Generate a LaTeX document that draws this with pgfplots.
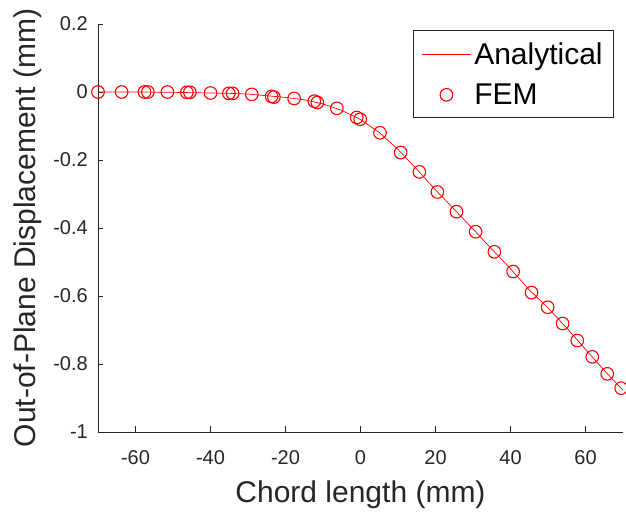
\documentclass[border=0pt]{standalone}
\usepackage{pgfplots}
\pgfplotsset{compat=1.18}
\usepackage{fontspec}
\setmainfont{Liberation Sans}
\definecolor{axgray}{rgb}{0.15,0.15,0.15}
\begin{document}
\begin{tikzpicture}
\begin{axis}[
  scale only axis,
  width=525pt, height=408pt,
  xmin=-70, xmax=70, ymin=-1, ymax=0.2,
  axis x line=bottom, axis y line=left,
  axis line style={-, axgray, line width=0.8pt},
  xtick={-60,-40,-20,0,20,40,60},
  ytick={-1,-0.8,-0.6,-0.4,-0.2,0,0.2},
  tick align=inside,
  major tick length=5.5pt,
  tick style={axgray, line width=0.8pt},
  /pgf/number format/assume math mode=true,
  yticklabel style={/pgf/number format/fixed, /pgf/number format/precision=1},
  ticklabel style={font=\fontsize{20}{24}\selectfont, text=axgray},
  xticklabel style={anchor=north, inner sep=0pt, yshift=-18pt},
  yticklabel style={anchor=east, inner sep=0pt, xshift=-10pt},
  xlabel={Chord length (mm)},
  ylabel={Out-of-Plane Displacement (mm)},
  label style={font=\fontsize{30}{36}\selectfont, text=axgray},
  xlabel style={at={(axis description cs:0.5,-0.174)}, anchor=base, inner sep=0pt},
  ylabel style={at={(axis description cs:-0.12,0.5)}, anchor=base, inner sep=0pt},
  legend style={at={(rel axis cs:0.983,0.985)}, anchor=north east,
    draw=axgray, line width=0.8pt, font=\fontsize{30}{36}\selectfont,
    inner xsep=8pt, inner ysep=8pt, row sep=10pt,
    nodes={inner xsep=3pt, inner ysep=4pt}},
  legend cell align=left,
  legend image code/.code={\draw[mark repeat=2,mark phase=2,#1] plot coordinates {(0pt,0pt) (24.5pt,0pt) (49pt,0pt)};},
]
\addplot[red, line width=0.7pt, mark=none] coordinates {
(-70,0) (-60,0) (-50,-0.001) (-40,-0.003) (-35,-0.004) (-30,-0.006)
(-25,-0.011) (-20,-0.016) (-15,-0.023) (-10,-0.035) (-5,-0.054) (0,-0.081)
(5,-0.119) (10,-0.169) (15,-0.227) (20,-0.288) (25,-0.345) (30,-0.403)
(35,-0.462) (40,-0.520) (45,-0.582) (50,-0.635) (55,-0.694) (60,-0.757)
(65,-0.819) (70,-0.877)
};
\addlegendentry{Analytical}
\addplot[red, only marks, mark=o, mark size=6.3pt, line width=1.1pt] coordinates {
(-70,0) (-63.7,0) (-57.6,0) (-56.7,0) (-51.5,0) (-46.3,-0.001) (-45.5,-0.001)
(-40,-0.003) (-35.1,-0.004) (-34.1,-0.004) (-29,-0.007) (-23.7,-0.013) (-23.1,-0.015)
(-17.7,-0.019) (-12.3,-0.027) (-11.5,-0.031) (-6.3,-0.048) (-1.0,-0.075) (-0.1,-0.080)
(5.2,-0.120) (10.7,-0.178) (15.7,-0.235) (20.5,-0.294) (25.6,-0.352) (30.7,-0.411)
(35.7,-0.470) (40.7,-0.528) (45.6,-0.590) (49.9,-0.633) (53.9,-0.681) (57.8,-0.731)
(61.8,-0.779) (65.8,-0.829) (69.5,-0.871)
};
\addlegendentry{FEM}
\end{axis}
\pgfresetboundingbox
\path ([shift={(-98pt,-81pt)}]current axis.south west) rectangle ([shift={(3pt,24pt)}]current axis.north east);
\end{tikzpicture}
\end{document}
